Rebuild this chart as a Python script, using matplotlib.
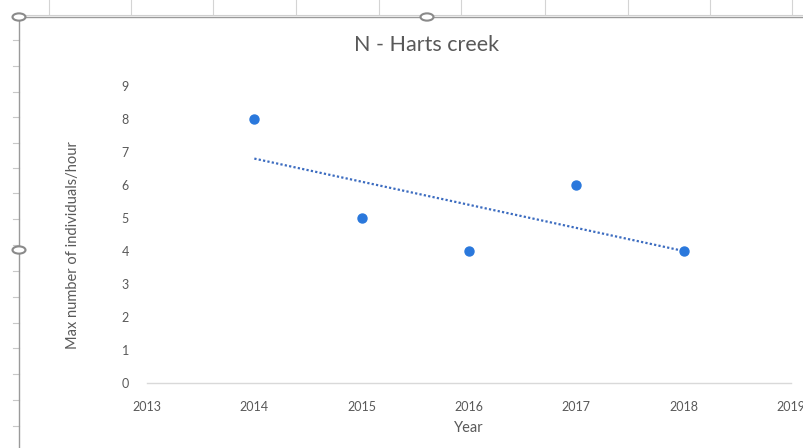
import numpy as np
import matplotlib
matplotlib.use('Agg')
import matplotlib.pyplot as plt
from matplotlib.lines import Line2D
from matplotlib.patches import Circle

# data
years = [2014, 2015, 2016, 2017, 2018]
max_individuals = [8, 5, 4, 6, 4]
x_ticks = [2013, 2014, 2015, 2016, 2017, 2018, 2019]
y_ticks = [0, 1, 2, 3, 4, 5, 6, 7, 8, 9]

plt.rcParams['font.family'] = ['Lato', 'DejaVu Sans']
grey = '#595959'

W, H = 804, 448
fig = plt.figure(figsize=(W / 100, H / 100), dpi=100)
fig.patch.set_facecolor('white')


def px(x, y):
    return x / W, 1 - y / H


# spreadsheet bits around the chart frame
for gx in [49, 131, 213, 296, 379, 461, 545, 628, 710, 792]:
    fig.add_artist(Line2D([gx / W, gx / W], [1, 1 - 14 / H], color='#d4d4d4', lw=0.8))
for gy in [40, 66, 92, 117, 143, 168, 193, 219, 245, 271, 297, 323, 348, 374, 400, 426]:
    fig.add_artist(Line2D([13 / W, 19 / W], [1 - gy / H] * 2, color='#c8c8c8', lw=0.8))
fig.add_artist(Line2D([19 / W, 1], [1 - 15 / H] * 2, color='#d0d0d0', lw=0.8))
fig.add_artist(Line2D([19 / W, 1], [1 - 17 / H] * 2, color='#9a9a9a', lw=1.0))
fig.add_artist(Line2D([19 / W, 19 / W], [0, 1 - 17 / H], color='#9a9a9a', lw=1.0))
for hx, hy in [(19, 17), (427, 17), (19, 250)]:
    cx, cy = px(hx, hy)
    fig.add_artist(Circle((cx, cy), 6.5 / W, transform=fig.transFigure, facecolor='white',
                          edgecolor='#8a8a8a', lw=1.5, zorder=10))

ax = fig.add_axes([147 / W, 1 - 383 / H, (791 - 147) / W, (383 - 86) / H])
ax.set_xlim(2013, 2019)
ax.set_ylim(0, 9)
ax.set_xticks(x_ticks)
ax.set_yticks(y_ticks)
ax.tick_params(length=0, colors=grey, labelsize=9)
ax.tick_params(axis='x', pad=13)
ax.tick_params(axis='y', pad=13)
for s in ['top', 'right', 'left']:
    ax.spines[s].set_visible(False)
ax.spines['bottom'].set_color('#d9d9d9')
ax.spines['bottom'].set_linewidth(1.0)

ax.scatter(years, max_individuals, s=42, color='#2a78dc', zorder=3, clip_on=False)

# linear trendline
k, b = np.polyfit(years, max_individuals, 1)
tx = np.array([years[0], years[-1]])
ax.plot(tx, k * tx + b, linestyle=(0, (1, 1)), color='#3c6cc0', lw=1.6, zorder=2)

ax.set_xlabel('Year', color=grey, fontsize=10.5)
ax.xaxis.set_label_coords((469 - 147) / (791 - 147), -(428 - 383) / (383 - 86))
ax.set_ylabel('Max number of individuals/hour', color=grey, fontsize=10.5)
ax.yaxis.set_label_coords(-(147 - 73) / (791 - 147), (383 - 245) / (383 - 86))
ax.xaxis.label.set_va('center')
ax.yaxis.label.set_va('center')
fig.text(427 / W, 1 - 45 / H, 'N - Harts creek', ha='center', va='center', fontsize=15.5, color=grey)

fig.savefig('out.png', dpi=100, facecolor='white')
